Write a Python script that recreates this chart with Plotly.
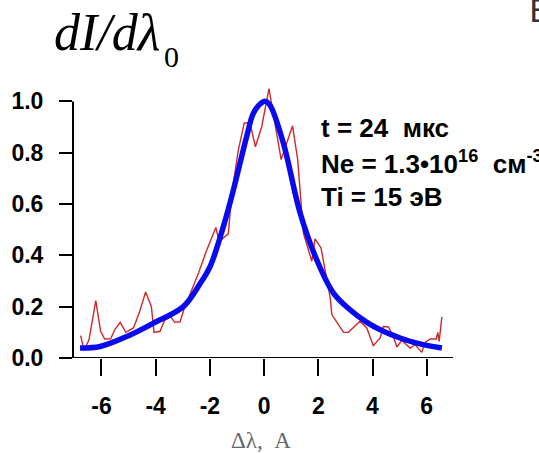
import plotly.graph_objects as go

# Measured line profile (noisy) and fitted contour
meas_x = [-6.77, -6.64, -6.46, -6.21, -6.03, -5.88, -5.66, -5.51, -5.31, -5.10,
          -4.82, -4.61, -4.37, -4.16, -4.06, -3.84, -3.66, -3.44, -3.30, -3.10,
          -2.96, -2.42, -2.11, -1.78, -1.66, -1.32, -1.19, -0.95, -0.73, -0.52,
          -0.32, -0.09, 0.18, 0.34, 0.63, 1.05, 1.24, 1.45, 1.76, 1.88,
          2.10, 2.44, 2.50, 2.93, 3.11, 3.54, 3.79, 4.03, 4.28, 4.40,
          4.59, 4.77, 4.90, 5.08, 5.39, 5.57, 5.82, 5.94, 6.13, 6.35,
          6.41, 6.46, 6.56]
meas_y = [0.087, 0.030, 0.071, 0.224, 0.104, 0.074, 0.075, 0.110, 0.139, 0.100,
          0.117, 0.175, 0.257, 0.201, 0.100, 0.104, 0.149, 0.160, 0.139, 0.141,
          0.188, 0.331, 0.422, 0.509, 0.454, 0.484, 0.643, 0.810, 0.916, 0.916,
          0.823, 0.900, 1.050, 0.955, 0.773, 0.905, 0.773, 0.487, 0.377, 0.464,
          0.429, 0.234, 0.169, 0.100, 0.100, 0.143, 0.117, 0.048, 0.078, 0.123,
          0.121, 0.084, 0.043, 0.069, 0.039, 0.052, 0.022, 0.061, 0.074, 0.074,
          0.100, 0.065, 0.160]

fit_x = [-6.79, -6.05, -5.00, -4.08, -2.98, -2.36, -1.99, -1.50, -1.13, -0.64,
         -0.39, -0.09, 0.05, 0.22, 0.71, 1.33, 1.94, 2.56, 3.17, 3.79,
         4.40, 5.02, 5.63, 6.56]
fit_y = [0.039, 0.045, 0.087, 0.136, 0.200, 0.290, 0.357, 0.513, 0.656, 0.864,
         0.955, 0.995, 1.000, 0.985, 0.838, 0.565, 0.383, 0.253, 0.188, 0.139,
         0.104, 0.078, 0.058, 0.039]

x_ticks = [-6, -4, -2, 0, 2, 4, 6]
y_ticks = [0.0, 0.2, 0.4, 0.6, 0.8, 1.0]
y_tick_text = ["0.0", "0.2", "0.4", "0.6", "0.8", "1.0"]

W, H = 539, 453
ML, MR, MT, MB = 73, 86, 86, 95
PW, PH = W - ML - MR, H - MT - MB


def px(xp):
    return (xp - ML) / PW


def py(yp):
    return (H - MB - yp) / PH


SANS = "Liberation Sans, Arial, sans-serif"
SERIF = "Liberation Serif, Times New Roman, serif"

fig = go.Figure()
fig.add_trace(go.Scatter(x=meas_x, y=meas_y, mode="lines",
                         line=dict(color="#d02828", width=1.4),
                         showlegend=False, hoverinfo="skip"))
fig.add_trace(go.Scatter(x=fit_x, y=fit_y, mode="lines",
                         line=dict(color="#0a0aee", width=5.5, shape="spline", smoothing=1.0),
                         showlegend=False, hoverinfo="skip"))

# axis lines
fig.add_shape(type="line", xref="paper", yref="y", x0=0, x1=0, y0=0, y1=1.0,
              line=dict(color="black", width=2))
fig.add_shape(type="line", xref="paper", yref="y", x0=px(60), x1=1, y0=0, y1=0,
              line=dict(color="black", width=2))

fig.update_xaxes(range=[-7.05, 6.97], showgrid=False, zeroline=False, showline=False,
                 automargin=False,
                 tickvals=x_ticks, ticktext=[str(v) for v in x_ticks],
                 ticks="outside", ticklen=17, tickwidth=2, tickcolor="black",
                 ticklabelstandoff=10,
                 tickfont=dict(family=SANS, size=23, color="black", weight="bold"))
fig.update_yaxes(range=[0, 1.06], showgrid=False, zeroline=False, showline=False,
                 automargin=False,
                 tickvals=y_ticks, ticktext=y_tick_text,
                 ticks="outside", ticklen=13, tickwidth=2, tickcolor="black",
                 ticklabelstandoff=11,
                 tickfont=dict(family=SANS, size=23, color="black", weight="bold"))

annos = []
# ordinate label: italic body and its subscript
annos.append(dict(text="<i>dI/dλ</i>", xref="paper", yref="paper",
                  x=px(52), y=py(32), xanchor="left", yanchor="middle", showarrow=False,
                  font=dict(family=SERIF, size=52, color="black")))
annos.append(dict(text="0", xref="paper", yref="paper",
                  x=px(162), y=py(57), xanchor="left", yanchor="middle", showarrow=False,
                  font=dict(family=SERIF, size=30, color="black")))
# abscissa label
annos.append(dict(text="Δλ,\u00a0\u00a0A", xref="paper", yref="paper",
                  x=px(261), y=py(440), xanchor="center", yanchor="middle", showarrow=False,
                  font=dict(family=SERIF, size=23, color="#666666")))
# parameter block
params = ["t = 24\u00a0\u00a0мкс",
          "Ne = 1.3•10<sup>16</sup>\u00a0\u00a0см<sup>-3</sup>",
          "Ti = 15 эВ"]
for txt, yc in zip(params, [128, 162, 197]):
    annos.append(dict(text=txt, xref="paper", yref="paper", x=px(319), y=py(yc),
                      xanchor="left", yanchor="middle", showarrow=False,
                      font=dict(family=SANS, size=26, color="black", weight="bold")))
# panel letter
annos.append(dict(text="B", xref="paper", yref="paper", x=px(527), y=py(-10),
                  xanchor="left", yanchor="top", showarrow=False,
                  font=dict(family="DejaVu Sans, sans-serif", size=32, color="#333333")))

fig.update_layout(width=W, height=H, margin=dict(l=ML, r=MR, t=MT, b=MB),
                  plot_bgcolor="white", paper_bgcolor="white", annotations=annos)

fig.write_html("out.html")
